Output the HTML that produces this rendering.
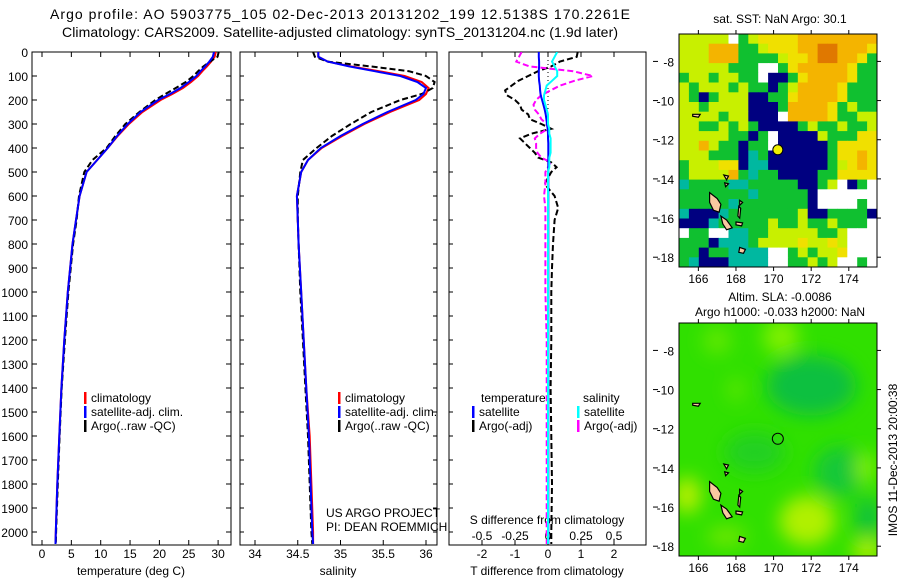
<!DOCTYPE html>
<html><head><meta charset="utf-8"><style>
html,body{margin:0;padding:0;background:#fff;}
svg{display:block;font-family:"Liberation Sans",sans-serif;}
</style></head><body>
<svg id="fig" width="900" height="580" viewBox="0 0 900 580" xmlns="http://www.w3.org/2000/svg">
<defs>
<clipPath id="cp1"><rect x="32" y="52" width="199" height="493"/></clipPath>
<clipPath id="cp2"><rect x="240" y="52" width="197" height="493"/></clipPath>
<clipPath id="cp3"><rect x="449" y="52" width="197" height="493"/></clipPath>
<clipPath id="cpm1"><rect x="679" y="34" width="198" height="233"/></clipPath>
<clipPath id="cpm2"><rect x="679" y="323" width="198" height="233"/></clipPath>
<filter id="blur" x="-50%" y="-50%" width="200%" height="200%"><feGaussianBlur stdDeviation="9"/></filter>
</defs>
<text x="340" y="19" font-size="14" text-anchor="middle" textLength="580">Argo profile: AO 5903775_105 02-Dec-2013 20131202_199 12.5138S 170.2261E</text>
<text x="340" y="37" font-size="14" text-anchor="middle" textLength="556">Climatology: CARS2009. Satellite-adjusted climatology: synTS_20131204.nc (1.9d later)</text>
<g id="p1"></g>
<g id="p2"></g>
<g id="p3"></g>
<g id="m1"></g>
<g id="m2"></g>
<text x="780" y="23" font-size="12" text-anchor="middle">sat. SST: NaN Argo: 30.1</text>
<text x="780" y="301" font-size="12" text-anchor="middle">Altim. SLA: -0.0086</text>
<text x="780" y="316" font-size="12" text-anchor="middle">Argo h1000: -0.033 h2000: NaN</text>
<text transform="translate(897,460) rotate(-90)" font-size="12" text-anchor="middle">IMOS 11-Dec-2013 20:00:38</text>
</svg>
<script>
const depth=[0,20,40,60,80,100,125,150,175,200,250,300,350,400,450,500,600,700,800,1000,1200,1400,1600,1800,2000,2050];
const tempSat=[29.3,29.1,28.5,27.8,27.0,26.3,25.0,23.6,21.8,19.8,16.8,14.6,12.8,11.2,9.4,7.6,6.4,5.8,5.2,4.4,3.8,3.3,2.95,2.6,2.35,2.3];
const tempClim=[29.6,29.4,28.8,28.1,27.3,26.6,25.4,24.0,22.2,20.2,17.1,14.8,12.9,11.2,9.4,7.6,6.4,5.8,5.2,4.4,3.8,3.3,2.95,2.6,2.35,2.3];
const tempArgo=[30.1,29.9,28.6,27.5,26.6,25.8,24.5,22.8,21.0,19.3,16.6,14.2,12.5,11.0,8.6,7.2,6.3,5.9,5.3,4.5,3.9,3.35,3.0,2.7,2.4,2.35];
const salSat=[34.74,34.74,34.85,35.1,35.4,35.7,35.9,36.0,35.97,35.88,35.55,35.26,35.0,34.77,34.62,34.54,34.49,34.5,34.51,34.54,34.57,34.6,34.63,34.65,34.67,34.68];
const salClim=[34.74,34.74,34.85,35.12,35.45,35.75,35.95,36.03,36.0,35.92,35.58,35.28,35.02,34.78,34.62,34.54,34.49,34.5,34.51,34.54,34.57,34.6,34.64,34.66,34.68,34.68];
const salArgo=[34.68,34.7,34.85,35.35,35.8,36.0,36.1,36.08,35.95,35.7,35.36,35.12,34.9,34.72,34.56,34.53,34.5,34.5,34.51,34.53,34.56,34.59,34.62,34.64,34.66,34.67];
const dDepth=[0,20,40,60,80,100,120,140,160,180,200,220,240,260,280,300,320,340,360,380,400,420,440,460,480,500,550,600,650,700,800,900,1000,1200,1400,1600,1800,2000,2050];
const dTArgo=[0.9,0.87,0.36,0.1,-0.3,-0.6,-0.9,-1.1,-1.3,-1.25,-1.0,-0.85,-0.8,-0.6,-0.55,-0.2,0.1,-0.5,-0.85,-0.7,-0.55,-0.4,-0.3,0.1,0.26,0.1,-0.1,0.2,0.31,0.2,0.15,0.12,0.1,0.1,0.08,0.1,0.12,0.1,0.1];
const dSArgo=[-0.2,-0.22,-0.24,-0.14,0.19,0.34,0.2,0.09,0.02,-0.05,-0.09,-0.11,-0.1,-0.07,-0.05,-0.01,0,-0.06,-0.1,-0.09,-0.09,-0.08,-0.05,0.02,0,-0.02,-0.02,-0.03,-0.02,-0.02,-0.02,-0.02,-0.02,-0.01,-0.01,-0.01,-0.01,-0.01,-0.01];
const dTSat=[-0.28,-0.28,-0.27,-0.27,-0.28,-0.28,-0.27,-0.25,-0.24,-0.22,-0.18,-0.14,-0.1,-0.07,-0.05,-0.03,-0.01,0,0,0.01,0.01,0.01,0.01,0.01,0.01,0.01,0.01,0.01,0.01,0.01,0.01,0.01,0.01,0.01,0.01,0.01,0.01,0.01,0.01];
const dSSat=[0.07,0.05,0.03,0.05,0.07,0.07,0.03,-0.01,-0.02,-0.03,-0.03,-0.02,-0.01,0,0,0,0.01,0.01,0.02,0.02,0.02,0.02,0.01,0.01,0.01,0,0,0,0,0,0,0,0,0,0,0,0,0,0];
const depthTicks=[0,100,200,300,400,500,600,700,800,900,1000,1100,1200,1300,1400,1500,1600,1700,1800,1900,2000];
const tempTicks=[0,5,10,15,20,25,30];
const salTicks=[34,34.5,35,35.5,36];
const dTTicks=[-2,-1,0,1,2];
const dSTicks=[-0.5,-0.25,0,0.25,0.5];
const latTicks=[-8,-10,-12,-14,-16,-18];
const lonTicks=[166,168,170,172,174];
const argoLon=170.2261, argoLat=-12.5138;
const sstRows=["YYYYYWGYLLLLOOOOOOOO","YYYOOOGGYLLLOORROOOL","YYYOOOGGGGYLLORROOLG","YYYYYGGGWWGLOOOOOLGG","GYYGYYGGWDDGLOOOOLGG","YGYYYGYGGDGYOOOOLGGG","YGDGYYYDDGGLOOOOLGGG","YYGYYYYDDDGOOOOLGYGG","YYYYGYYDDDWOOOOLGGYY","YYGGYGYGDDDDGYGGYGGY","YYYYYGGDGWDDDDYGGGLL","YYOYGGDGGWDDDDDGLLLL","YYYGGGDCGDDDDDDGLLOL","GYYYLLDCCDDDDDDGYLOL","GYYYYOGCGGDDDDGGLLLL","CGGGGCCGGGGGDDGYWDGW","GGGGGGGCGGGGGDWWWWWW","GGGGGCGGGGGGGDWWWWGW","CDDDCGGGGGGGYDDGGGGD","DDDCGGGGGYGGYGGYGGGW","WGGWWCCGGYYYYYGGYWWW","GGGDCCCGYYYYLYYLYWWW","GGDGGCCCCWWGYGYYLWWW","GCDDDCCCCWWGGYGYWWGW"];
const NS="http://www.w3.org/2000/svg";
function el(tag,attrs,parent){const e=document.createElementNS(NS,tag);for(const k in attrs)e.setAttribute(k,attrs[k]);parent.appendChild(e);return e;}
const yD=d=>52+d*0.24;
const xT=t=>42+t*5.87;
const xS=s=>255+(s-34)*85.5;
const xDT=v=>548+v*33;
const xDS=v=>548+v*132;
function pts(xs,ds,fx){return xs.map((v,i)=>fx(v).toFixed(1)+","+yD(ds[i]).toFixed(1)).join(" ");}
function line(g,xs,ds,fx,color,dash,name,clip){
  const p=el("polyline",{points:pts(xs,ds,fx),fill:"none",stroke:color,"stroke-width":2,"clip-path":"url(#"+clip+")"},g);
  if(dash)p.setAttribute("stroke-dasharray",dash);
  
  
}
function frame(g,x,y,w,h,name){const r=el("rect",{x:x,y:y,width:w,height:h,fill:"none",stroke:"#000","stroke-width":1},g);
  
  }
function txt(g,x,y,s,anchor,size,name){const t=el("text",{x:x,y:y,"font-size":size||12,"text-anchor":anchor||"start"},g);t.textContent=s;
  
  return t;}
function xticks(g,ticks,fx,y0,y1,labY,name,fmt){ticks.forEach(v=>{const x=fx(v);
  el("line",{x1:x,y1:y0,x2:x,y2:y0-5,stroke:"#000"},g);el("line",{x1:x,y1:y1,x2:x,y2:y1+5,stroke:"#000"},g);
  txt(g,x,labY,fmt?fmt(v):String(v),"middle",12,name);});}
function legend(g,x,y,color,label,name){
  const m=el("rect",{x:x,y:y-10,width:2.5,height:12,fill:color},g);
  
  
  txt(g,x+7,y,label,"start",12,name);
}
// Panel 1
const p1=document.getElementById("p1");
frame(p1,32,52,199,493,"temperature-frame");
depthTicks.forEach(d=>{const y=yD(d);el("line",{x1:32,y1:y,x2:37,y2:y,stroke:"#000"},p1);el("line",{x1:231,y1:y,x2:226,y2:y,stroke:"#000"},p1);txt(p1,28,y+5,String(d),"end",12,"depth-tick-label");});
xticks(p1,tempTicks,xT,545,52,558,"temperature-tick-label");
txt(p1,131,575,"temperature (deg C)","middle",12,"temperature-axis-title");
line(p1,tempClim,depth,xT,"#f00",null,"temperature-climatology-line","cp1");
line(p1,tempArgo,depth,xT,"#000","6,3","temperature-argo-line","cp1");
line(p1,tempSat,depth,xT,"#00f",null,"temperature-satellite-line","cp1");
legend(p1,84,402,"#f00","climatology","legend-climatology");
legend(p1,84,416,"#00f","satellite-adj. clim.","legend-satellite");
legend(p1,84,430,"#000","Argo(..raw -QC)","legend-argo");
// Panel 2
const p2=document.getElementById("p2");
frame(p2,240,52,197,493,"salinity-frame");
depthTicks.forEach(d=>{const y=yD(d);el("line",{x1:240,y1:y,x2:244,y2:y,stroke:"#000"},p2);el("line",{x1:437,y1:y,x2:433,y2:y,stroke:"#000"},p2);});
xticks(p2,salTicks,xS,545,52,558,"salinity-tick-label");
txt(p2,338,575,"salinity","middle",12,"salinity-axis-title");
line(p2,salClim,depth,xS,"#f00",null,"salinity-climatology-line","cp2");
line(p2,salArgo,depth,xS,"#000","6,3","salinity-argo-line","cp2");
line(p2,salSat,depth,xS,"#00f",null,"salinity-satellite-line","cp2");
legend(p2,338,402,"#f00","climatology","legend-climatology-2");
legend(p2,338,416,"#00f","satellite-adj. clim.","legend-satellite-2");
legend(p2,338,430,"#000","Argo(..raw -QC)","legend-argo-2");
txt(p2,326,517,"US ARGO PROJECT","start",12,"project-label");
txt(p2,326,531,"PI: DEAN ROEMMICH","start",12,"pi-label");
// Panel 3
const p3=document.getElementById("p3");
frame(p3,449,52,197,493,"difference-frame");
depthTicks.forEach(d=>{const y=yD(d);el("line",{x1:449,y1:y,x2:453,y2:y,stroke:"#000"},p3);});
el("line",{x1:548,y1:52,x2:548,y2:545,stroke:"#000","stroke-dasharray":"1,3"},p3);
xticks(p3,dTTicks,xDT,545,52,558,"t-diff-tick-label");
dSTicks.forEach(v=>{const x=xDS(v);txt(p3,x,540,v===0?"0":String(v),"middle",12,"s-diff-tick-label");});
txt(p3,547,575,"T difference from climatology","middle",12,"t-diff-axis-title");
txt(p3,547,524,"S difference from climatology","middle",12,"s-diff-axis-title");
line(p3,dTArgo,dDepth,xDT,"#000","6,3","t-diff-argo-line","cp3");
line(p3,dSArgo,dDepth,xDS,"#f0f","6,3","s-diff-argo-line","cp3");
line(p3,dTSat,dDepth,xDT,"#00f",null,"t-diff-satellite-line","cp3");
line(p3,dSSat,dDepth,xDS,"#0ff",null,"s-diff-satellite-line","cp3");
txt(p3,481,402,"temperature","start",12,"legend-temperature-heading");
txt(p3,583,402,"salinity","start",12,"legend-salinity-heading");
legend(p3,472,416,"#00f","satellite","legend-t-satellite");
legend(p3,472,430,"#000","Argo(-adj)","legend-t-argo");
legend(p3,577,416,"#0ff","satellite","legend-s-satellite");
legend(p3,577,430,"#f0f","Argo(-adj)","legend-s-argo");
// Maps
const lon0=164.97,lon1=175.5;
function mapAxes(g,top,bot){
  const lx=lon=>679+(lon-lon0)*(198/(lon1-lon0));
  const ly=lat=>top+(-6.6-lat)*((bot-top)/11.9);
  return {lx,ly};
}
const islands=[[[166.6,-14.7],[167.0,-15.0],[167.2,-15.3],[167.1,-15.7],[166.8,-15.6],[166.6,-15.2]],
[[167.2,-15.9],[167.5,-16.1],[167.8,-16.5],[167.5,-16.6],[167.3,-16.3]],
[[168.2,-17.5],[168.5,-17.6],[168.4,-17.8],[168.15,-17.75]],
[[168.15,-15.4],[168.25,-15.5],[168.2,-16.0],[168.1,-15.9]],
[[168.0,-16.2],[168.35,-16.25],[168.3,-16.4],[168.0,-16.35]],
[[165.7,-10.7],[166.1,-10.7],[166.0,-10.85],[165.7,-10.8]],
[[167.35,-13.8],[167.6,-13.85],[167.5,-14.05]],
[[167.4,-14.2],[167.6,-14.25],[167.45,-14.4]],
[[168.2,-15.1],[168.35,-15.2],[168.2,-15.35]]];
function drawIslands(g,A,clip){islands.forEach(poly=>{const p=el("polygon",{points:poly.map(q=>A.lx(q[0]).toFixed(1)+","+A.ly(q[1]).toFixed(1)).join(" "),fill:"#f8c8a0",stroke:"#000","stroke-width":1.2,"clip-path":"url(#"+clip+")"},g);
  
  });}
function mapFrame(g,top,bot,A,name){
  frame(g,679,top,198,bot-top,name+"-frame");
  lonTicks.forEach(l=>{const x=A.lx(l);el("line",{x1:x,y1:top,x2:x,y2:top-4,stroke:"#000"},g);el("line",{x1:x,y1:bot,x2:x,y2:bot+4,stroke:"#000"},g);txt(g,x,bot+16,String(l),"middle",12,name+"-lon-label");});
  latTicks.forEach(l=>{const y=A.ly(l);el("line",{x1:877,y1:y,x2:881,y2:y,stroke:"#000"},g);el("line",{x1:653,y1:y,x2:658,y2:y,stroke:"#000"},g);txt(g,674,y+5,String(l),"end",12,name+"-lat-label");});
}
const cmap={Y:"#c8f000",L:"#f0e000",O:"#f4b400",R:"#e07800",G:"#10c030",C:"#00b8a0",B:"#0090f0",D:"#000080",W:"#ffffff"};
const m1=document.getElementById("m1");
const A1=mapAxes(m1,34,267);
const cw=198/20,ch=233/24;
sstRows.forEach((row,r)=>{for(let c=0;c<row.length;c++){const k=row[c];
  const cell=el("rect",{x:(679+c*cw).toFixed(1),y:(34+r*ch).toFixed(1),width:(cw+0.4).toFixed(1),height:(ch+0.4).toFixed(1),fill:cmap[k]},m1);
  
  }});
drawIslands(m1,A1,"cpm1");
const dot1=el("circle",{cx:A1.lx(argoLon),cy:A1.ly(argoLat),r:5,fill:"#f0f000",stroke:"#000"},m1);


mapFrame(m1,34,267,A1,"sst-map");
const m2=document.getElementById("m2");
const A2=mapAxes(m2,323,556);
const bg=el("rect",{x:679,y:323,width:198,height:233,fill:"#30e000"},m2);


const gb=el("g",{"clip-path":"url(#cpm2)"},m2);
const gi=el("g",{filter:"url(#blur)"},gb);
[[172,-9.8,45,30,"#10c040"],[173.5,-14.2,25,25,"#18c838"],[169,-13.2,30,20,"#20d020"],[175,-16.5,12,20,"#10c040"],[171.8,-16.7,28,25,"#b0f000"],[165.4,-15.4,14,18,"#b8f000"],[170.4,-7.3,18,18,"#80f000"],[174.9,-14,10,16,"#80f000"],[175,-18.2,16,10,"#c0f000"],[167,-7.5,14,14,"#60e800"],[168,-10,8,12,"#60e800"],[167.5,-17.5,20,10,"#70e800"]].forEach(b=>{
  const e=el("ellipse",{cx:A2.lx(b[0]),cy:A2.ly(b[1]),rx:b[2],ry:b[3],fill:b[4]},gi);
  
  });
drawIslands(m2,A2,"cpm2");
const dot2=el("circle",{cx:A2.lx(argoLon),cy:A2.ly(argoLat),r:5.5,fill:"none",stroke:"#000"},m2);


mapFrame(m2,323,556,A2,"sla-map");
</script>
</body></html>
